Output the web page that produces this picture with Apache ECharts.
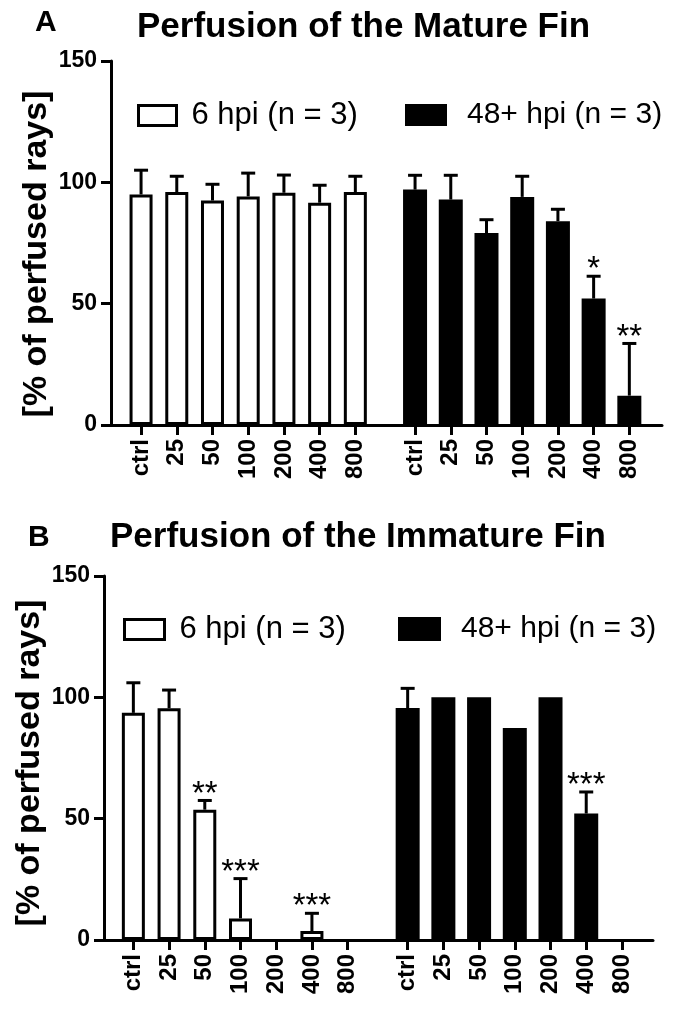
<!DOCTYPE html>
<html><head><meta charset="utf-8">
<script src="https://cdn.jsdelivr.net/npm/echarts@6/dist/echarts.min.js"></script>
<style>html,body{margin:0;padding:0;background:#fff}#c{width:675px;height:1010px}</style>
</head><body><div id="c"></div>
<script>
// ---- data ----
const categories = ['ctrl', '25', '50', '100', '200', '400', '800'];
const yTicks = [0, 50, 100, 150];
const seriesEarly = '6 hpi (n = 3)';
const seriesLate = '48+ hpi (n = 3)';
const yAxisTitle = '[% of perfused rays]';

const matureEarly    = [95, 96, 92.5, 94.2, 95.7, 91.6, 96];
const matureEarlyErr = [10, 6.5, 6.7, 9.6, 7.3, 7.2, 6.5];
const matureEarlySig = ['', '', '', '', '', '', ''];
const matureLate     = [97, 92.9, 79.1, 94, 84, 52.1, 12.1];
const matureLateErr  = [5.9, 10, 5.5, 8.5, 4.9, 9.2, 21.5];
const matureLateSig  = ['', '', '', '', '', '*', '**'];

const immatureEarly    = [93.6, 95.5, 53.7, 8.9, 0, 3.7, 0];
const immatureEarlyErr = [12.4, 7.5, 3.8, 16.4, 0, 7.3, 0];
const immatureEarlySig = ['', '', '**', '***', '', '***', ''];
const immatureLate     = [95.6, 100, 100, 87.4, 100, 52.1, 0];
const immatureLateErr  = [8.1, 0, 0, 0, 0, 8.9, 0];
const immatureLateSig  = ['', '', '', '', '', '***', ''];

// ---- layout / style ----
const FONT = '"Liberation Sans", Arial, Helvetica, sans-serif';
const H = 1010, W = 675;
const panels = [
  { axisX: 111, right: 662, top: 61, base: 425, g1: 123.2, g2: 397.2, title: 'Perfusion of the Mature Fin', letter: 'A',
    letterTop: 7.5, letterLeft: 35, titleTop: 10, titleLeft: 137, yNameX: 37, yNameY: 254,
    leg1: { left: 137, top: 100, w: 38, h: 20 }, leg2: { left: 405, top: 100, w: 42, h: 22 },
    early: matureEarly, earlyErr: matureEarlyErr, earlySig: matureEarlySig,
    late: matureLate, lateErr: matureLateErr, lateSig: matureLateSig },
  { axisX: 104, right: 653, top: 576, base: 940, g1: 115.5, g2: 389.8, title: 'Perfusion of the Immature Fin', letter: 'B',
    letterTop: 522.5, letterLeft: 28, titleTop: 520, titleLeft: 110, yNameX: 30, yNameY: 763,
    leg1: { left: 123, top: 614, w: 40, h: 20 }, leg2: { left: 398, top: 614, w: 43, h: 24 },
    early: immatureEarly, earlyErr: immatureEarlyErr, earlySig: immatureEarlySig,
    late: immatureLate, lateErr: immatureLateErr, lateSig: immatureLateSig }
];
const BAND = 250;

const grid = [], xAxis = [], yAxis = [], series = [], title = [], legend = [], graphic = [];

function errRender(vals, errs, sigs) {
  return function (params, api) {
    const i = params.dataIndex;
    const v = vals[i], e = errs[i], s = sigs[i];
    const base = api.coord([i, v]);
    const top = api.coord([i, v + e]);
    const children = [];
    if (e > 0) {
      children.push({ type: 'line', shape: { x1: base[0], y1: base[1], x2: top[0], y2: top[1] },
        style: { stroke: '#000', lineWidth: 3 } });
      children.push({ type: 'line', shape: { x1: top[0] - 7, y1: top[1], x2: top[0] + 7, y2: top[1] },
        style: { stroke: '#000', lineWidth: 3 } });
    }
    if (s) {
      children.push({ type: 'text', x: top[0], y: top[1] - 6,
        style: { text: s, fill: '#000', fontSize: 33, fontFamily: FONT, align: 'center', verticalAlign: 'middle' } });
    }
    return { type: 'group', children };
  };
}
const barValue = v => (v === 0 ? null : v);

panels.forEach((p, pi) => {
  const gi = grid.length;
  const bottom = H - p.base;
  grid.push({ left: p.axisX, right: W - p.right, top: p.top, bottom: bottom });
  grid.push({ left: p.g1, width: BAND, top: p.top, bottom: bottom });
  grid.push({ left: p.g2, width: BAND, top: p.top, bottom: bottom });

  xAxis.push({ gridIndex: gi, type: 'value', min: 0, max: 1,
    axisLine: { show: true, onZero: false, lineStyle: { color: '#000', width: 3 } },
    axisTick: { show: false }, axisLabel: { show: false }, splitLine: { show: false } });
  [gi + 1, gi + 2].forEach(g => xAxis.push({ gridIndex: g, type: 'category', data: categories,
    axisLine: { show: false },
    axisTick: { show: true, alignWithLabel: true, length: 10, lineStyle: { color: '#000', width: 3 } },
    axisLabel: { rotate: 90, margin: 14, color: '#000', fontSize: 24, fontWeight: 'bold', fontFamily: FONT, interval: 0 },
    splitLine: { show: false } }));

  yAxis.push({ gridIndex: gi, type: 'value', min: yTicks[0], max: yTicks[yTicks.length - 1], interval: yTicks[1] - yTicks[0],
    axisLine: { show: true, lineStyle: { color: '#000', width: 3 } },
    axisTick: { show: true, length: 10, lineStyle: { color: '#000', width: 3 } },
    axisLabel: { margin: 14, color: '#000', fontSize: 23, fontWeight: 'bold', fontFamily: FONT },
    splitLine: { show: false } });
  [gi + 1, gi + 2].forEach(g => yAxis.push({ gridIndex: g, type: 'value', min: yTicks[0], max: yTicks[yTicks.length - 1],
    show: false, splitLine: { show: false } }));

  series.push({ name: seriesEarly, type: 'bar', xAxisIndex: gi + 1, yAxisIndex: gi + 1, data: p.early.map(barValue), barWidth: 23,
    itemStyle: { color: '#fff', borderColor: '#000', borderWidth: 3 }, z: 2 });
  series.push({ name: 'err-early-' + pi, type: 'custom', xAxisIndex: gi + 1, yAxisIndex: gi + 1,
    data: p.early.map((v, i) => [i, v + p.earlyErr[i]]), encode: { x: 0, y: 1 },
    renderItem: errRender(p.early, p.earlyErr, p.earlySig), z: 3 });
  series.push({ name: seriesLate, type: 'bar', xAxisIndex: gi + 2, yAxisIndex: gi + 2, data: p.late.map(barValue), barWidth: 24,
    itemStyle: { color: '#000', borderColor: '#000', borderWidth: 3 }, z: 2 });
  series.push({ name: 'err-late-' + pi, type: 'custom', xAxisIndex: gi + 2, yAxisIndex: gi + 2,
    data: p.late.map((v, i) => [i, v + p.lateErr[i]]), encode: { x: 0, y: 1 },
    renderItem: errRender(p.late, p.lateErr, p.lateSig), z: 3 });

  title.push({ text: p.letter, left: p.letterLeft, top: p.letterTop, padding: 0,
    textStyle: { fontSize: 30, fontWeight: 'bold', color: '#000', fontFamily: FONT } });
  title.push({ text: p.title, left: p.titleLeft, top: p.titleTop, padding: 0,
    textStyle: { fontSize: 35, fontWeight: 'bold', color: '#000', fontFamily: FONT } });

  graphic.push({ type: 'text', x: p.yNameX, y: p.yNameY, rotation: Math.PI / 2,
    style: { text: yAxisTitle, fill: '#000', fontSize: 34, fontWeight: 'bold', fontFamily: FONT, align: 'center', verticalAlign: 'middle' } });

  legend.push({ left: p.leg1.left, top: p.leg1.top, padding: 0, itemWidth: p.leg1.w, itemHeight: p.leg1.h,
    selectedMode: false, icon: 'rect',
    data: [{ name: seriesEarly, itemStyle: { color: '#fff', borderColor: '#000', borderWidth: 3 } }],
    textStyle: { fontSize: 31, color: '#000', fontFamily: FONT, padding: [0, 0, 0, 10] } });
  legend.push({ left: p.leg2.left, top: p.leg2.top, padding: 0, itemWidth: p.leg2.w, itemHeight: p.leg2.h,
    selectedMode: false, icon: 'rect',
    data: [{ name: seriesLate, itemStyle: { color: '#000', borderColor: '#000', borderWidth: 0 } }],
    textStyle: { fontSize: 30, color: '#000', fontFamily: FONT, padding: [0, 0, 0, 15] } });
});

const chart = echarts.init(document.getElementById('c'), null, { renderer: 'canvas' });
chart.setOption({ animation: false, backgroundColor: '#fff', title, legend, grid, xAxis, yAxis, series, graphic });
</script></body></html>
